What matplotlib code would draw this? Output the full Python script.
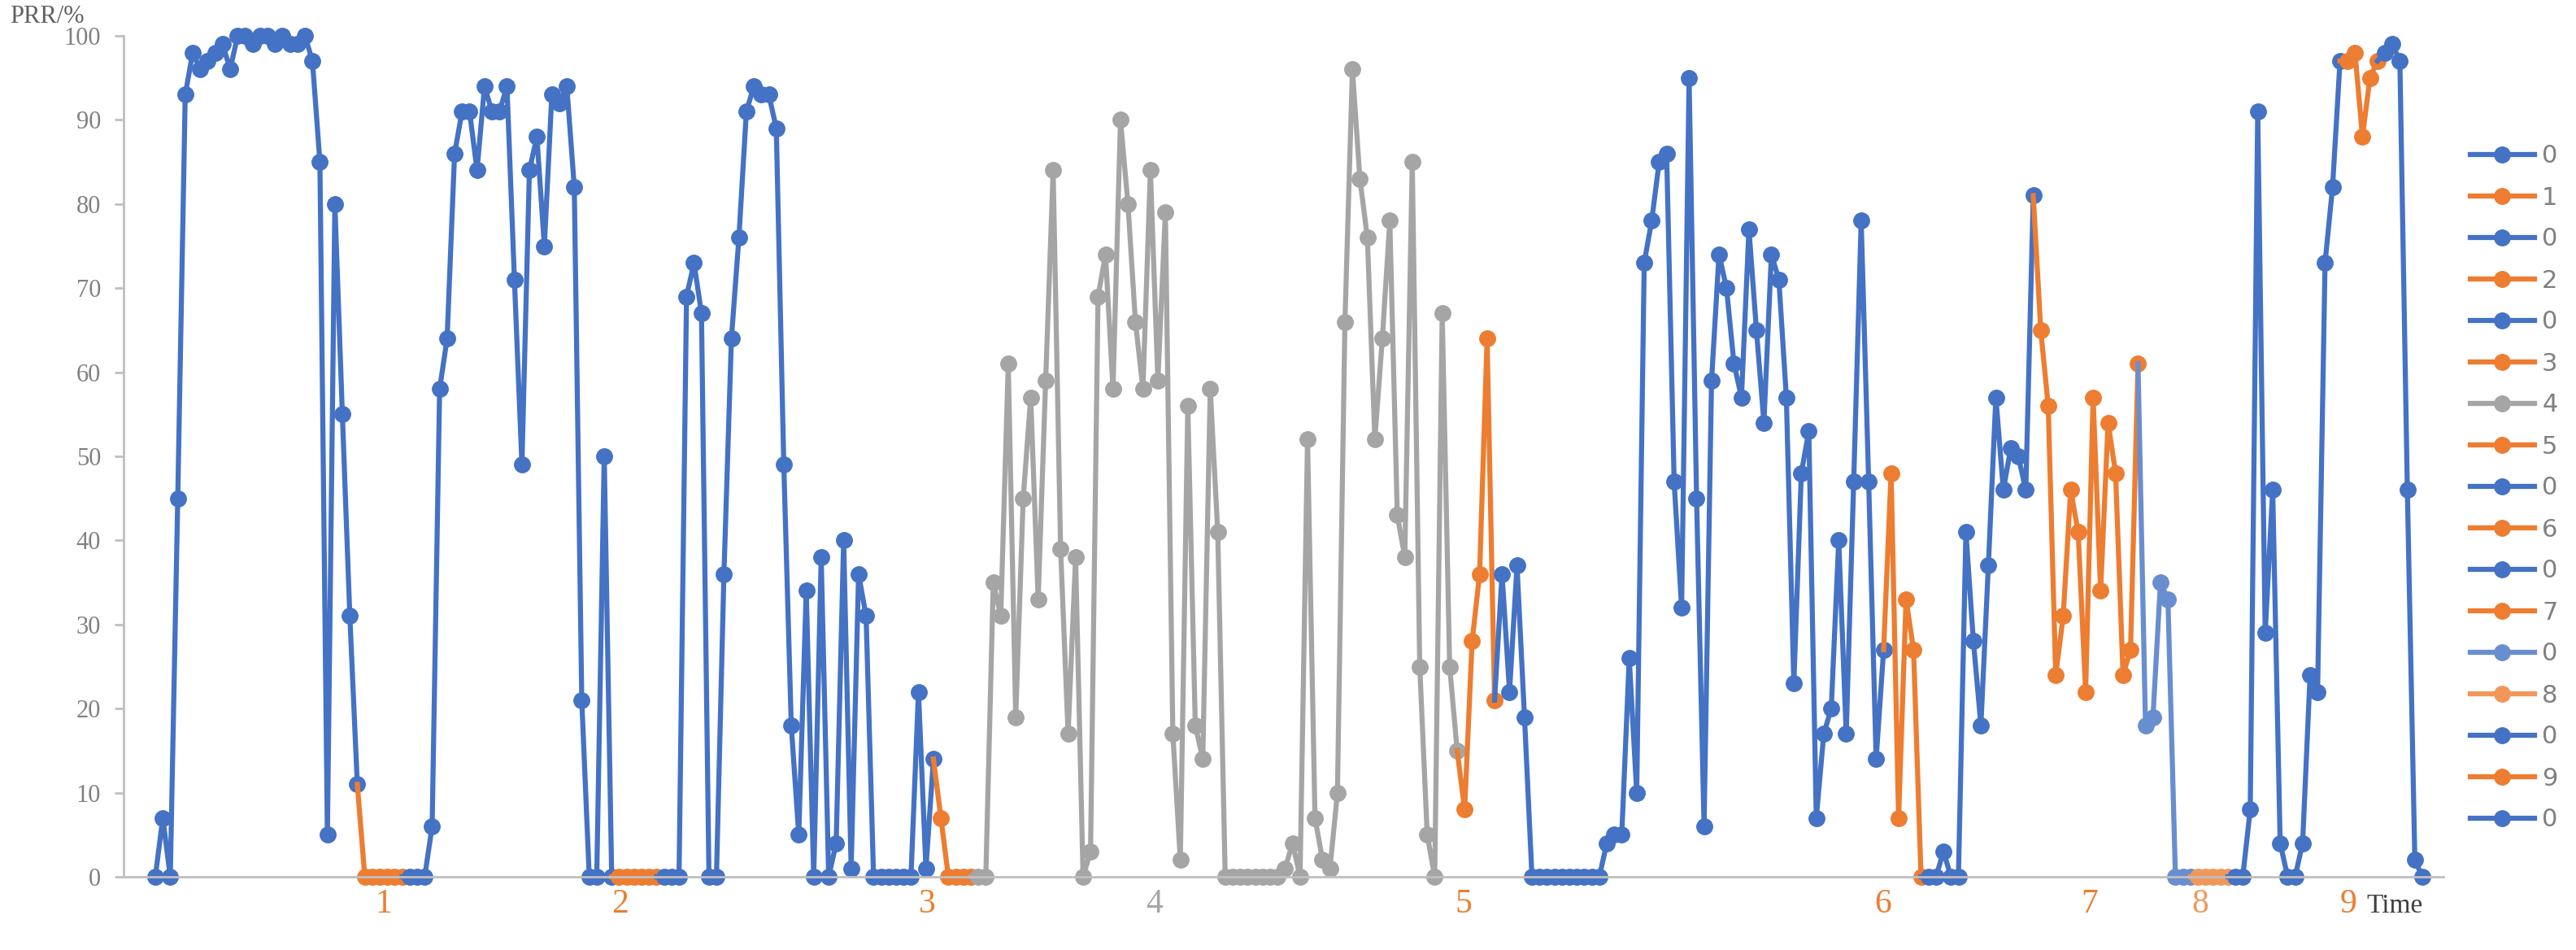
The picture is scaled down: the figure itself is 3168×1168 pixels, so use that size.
import matplotlib
matplotlib.use("Agg")
import matplotlib.pyplot as plt
import numpy as np

# 每段 PRR 数据 (%), 按时间顺序排列
seg_names = ["0", "1", "0", "2", "0", "3", "4", "5", "0", "6", "0", "7", "0", "8", "0", "9", "0"]
seg_values = [
    [0, 7, 0, 45, 93, 98, 96, 97, 98, 99, 96, 100, 100, 99, 100, 100, 99, 100, 99, 99, 100, 97, 85, 5, 80, 55, 31, 11],
    [0, 0, 0, 0, 0, 0],
    [0, 0, 0, 6, 58, 64, 86, 91, 91, 84, 94, 91, 91, 94, 71, 49, 84, 88, 75, 93, 92, 94, 82, 21, 0, 0, 50, 0],
    [0, 0, 0, 0, 0, 0],
    [0, 0, 0, 69, 73, 67, 0, 0, 36, 64, 76, 91, 94, 93, 93, 89, 49, 18, 5, 34, 0, 38, 0, 4, 40, 1, 36, 31,
     0, 0, 0, 0, 0, 0, 22, 1, 14],
    [7, 0, 0, 0, 0],
    [0, 0, 35, 31, 61, 19, 45, 57, 33, 59, 84, 39, 17, 38, 0, 3, 69, 74, 58, 90, 80, 66, 58, 84, 59, 79,
     17, 2, 56, 18, 14, 58, 41, 0, 0, 0, 0, 0, 0, 0, 0, 1, 4, 0, 52, 7, 2, 1, 10, 66, 96, 83, 76, 52, 64,
     78, 43, 38, 85, 25, 5, 0, 67, 25, 15],
    [8, 28, 36, 64, 21],
    [36, 22, 37, 19, 0, 0, 0, 0, 0, 0, 0, 0, 0, 0, 4, 5, 5, 26, 10, 73, 78, 85, 86, 47, 32, 95, 45, 6, 59,
     74, 70, 61, 57, 77, 65, 54, 74, 71, 57, 23, 48, 53, 7, 17, 20, 40, 17, 47, 78, 47, 14, 27],
    [48, 7, 33, 27, 0],
    [0, 0, 3, 0, 0, 41, 28, 18, 37, 57, 46, 51, 50, 46, 81],
    [65, 56, 24, 31, 46, 41, 22, 57, 34, 54, 48, 24, 27, 61],
    [18, 19, 35, 33, 0, 0, 0],
    [0, 0, 0, 0, 0],
    [0, 0, 8, 91, 29, 46, 4, 0, 0, 4, 24, 22, 73, 82, 97],
    [97, 98, 88, 95, 97],
    [98, 99, 97, 46, 2, 0],
]
seg_colors = ["#4472C4", "#ED7D31", "#4472C4", "#ED7D31", "#4472C4", "#ED7D31", "#A5A5A5", "#ED7D31",
              "#4472C4", "#ED7D31", "#4472C4", "#ED7D31", "#698ED0", "#F1975A", "#4472C4", "#ED7D31", "#4472C4"]
label_text = ["1", "2", "3", "4", "5", "6", "7", "8", "9"]
label_segs = [1, 3, 5, 6, 7, 9, 11, 13, 15]
label_px = [472, 762, 1140, 1420, 1800, 2316, 2570, 2706, 2888]   # 标签横向像素位置

W, H = 3168, 1168
fig = plt.figure(figsize=(W / 100, H / 100), dpi=100)
ax_l, ax_r = 152 / W, 3005 / W
ax = fig.add_axes([ax_l, 1 - 1078 / H, ax_r - ax_l, (1078 - 44) / H])

serif = ["Liberation Serif", "DejaVu Serif"]
n_total = sum(len(v) for v in seg_values)
spacing = (2979 - 191) / (n_total - 1)

start = 0
for name, vals, col in zip(seg_names, seg_values, seg_colors):
    x = np.arange(start, start + len(vals))
    y = np.array(vals, dtype=float)
    if start > 0:
        # 连接前一段最后一点
        x = np.concatenate([[start - 1], x])
        y = np.concatenate([[prev_y], y])
        mk = list(range(1, len(x)))
    else:
        mk = list(range(len(x)))
    ln, = ax.plot(x, y, color=col, lw=4.5, marker="o", ms=14, markevery=mk,
                  solid_joinstyle="round", label=name)
    ln.set_clip_on(False)
    prev_y = vals[-1]
    start += len(vals)

ax.set_xlim(-(191 - 152) / spacing, n_total - 1 + (3005 - 2979) / spacing)
ax.set_ylim(0, 100)
ax.set_yticks(range(0, 101, 10))
ax.set_xticks([])
for s in ["top", "right"]:
    ax.spines[s].set_visible(False)
for s in ["left", "bottom"]:
    ax.spines[s].set_color("#BFBFBF")
    ax.spines[s].set_linewidth(2)
ax.tick_params(axis="y", colors="#BFBFBF", length=8, width=2, pad=12,
               labelsize=22, labelcolor="#808080")
for t in ax.get_yticklabels():
    t.set_family(serif)

# 分段编号
for txt, si, px in zip(label_text, label_segs, label_px):
    fig.text(px / W, 1 - 1092 / H, txt, color=seg_colors[si], fontsize=30, family=serif,
             ha="center", va="top")
fig.text(2945 / W, 1 - 1098 / H, "Time", color="#404040", fontsize=24, family=serif,
         ha="center", va="top")

fig.text(12 / W, 1 - 6 / H, "PRR/%", color="#606060", fontsize=22, family=serif, ha="left", va="top")

fig.legend(loc="upper left", bbox_to_anchor=(3010 / W, 1 - 150 / H), frameon=False,
           handlelength=2.6, handletextpad=0.3, labelspacing=0.72, labelcolor="#808080",
           prop={"family": "DejaVu Sans", "size": 22})

fig.savefig("out.png", dpi=100)
